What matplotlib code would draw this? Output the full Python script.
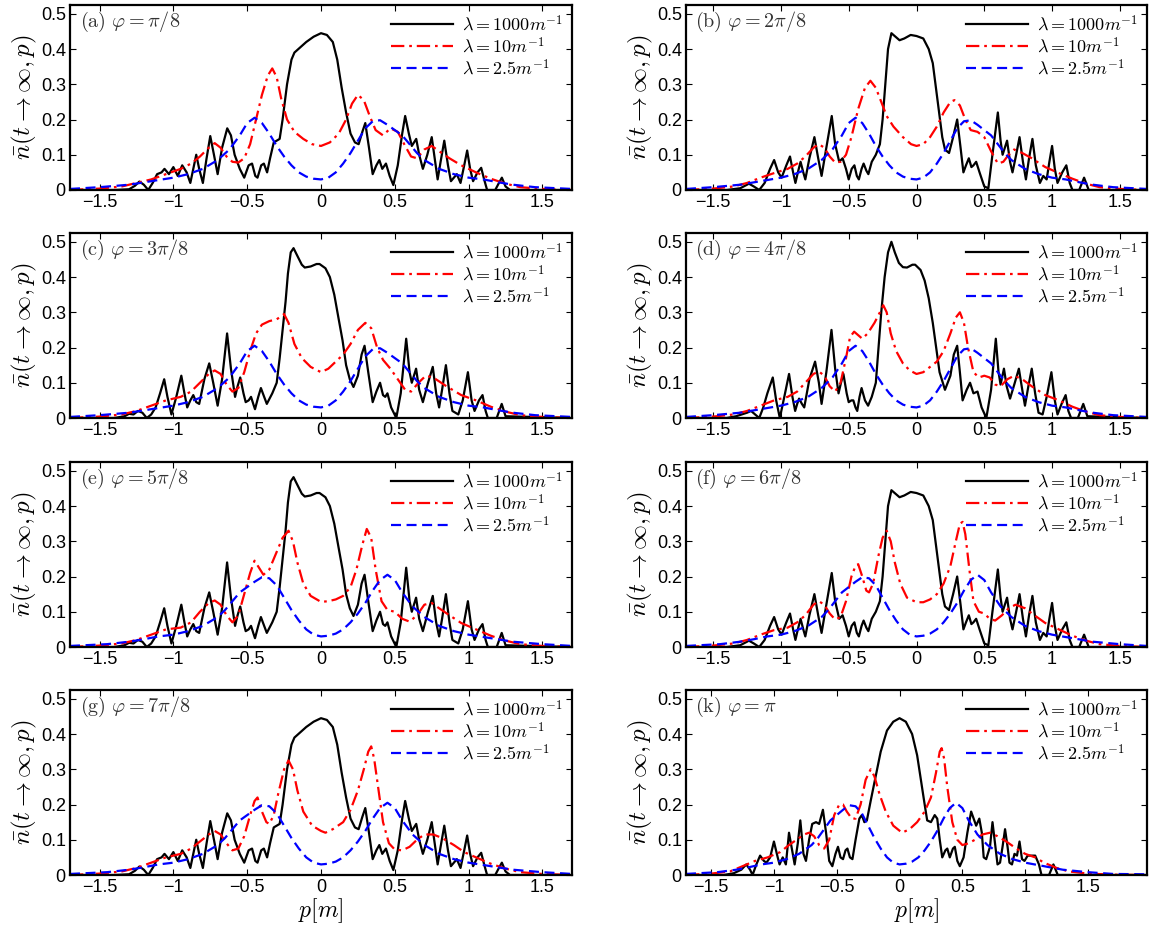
import matplotlib
matplotlib.use("Agg")
import matplotlib.pyplot as plt
import numpy as np

plt.rcParams['mathtext.fontset'] = 'cm'
plt.rcParams['font.family'] = ['Liberation Sans', 'DejaVu Sans']

# ---------------- data ----------------
# lambda = 1000 m^-1 (black solid)
black_A_x = [-1.70,-1.40,-1.30,-1.26,-1.23,-1.20,-1.17,-1.14,-1.11,-1.08,-1.06,-1.03,-1.00,-0.97,-0.94,-0.91,-0.885,-0.865,-0.845,-0.825,-0.80,-0.775,-0.75,-0.725,-0.70,-0.67,-0.635,-0.61,-0.585,-0.55,-0.52,-0.49,-0.467,-0.445,-0.43,-0.405,-0.387,-0.365,-0.345,-0.32,-0.28,-0.26,-0.23,-0.20,-0.18,-0.14,-0.10,-0.05,0.0,0.04,0.08,0.11,0.14,0.17,0.20,0.23,0.255,0.28,0.30,0.325,0.35,0.375,0.395,0.415,0.44,0.465,0.49,0.52,0.55,0.57,0.595,0.615,0.645,0.665,0.69,0.72,0.75,0.77,0.79,0.81,0.835,0.86,0.88,0.90,0.92,0.945,0.97,0.99,1.01,1.03,1.06,1.085,1.105,1.125,1.18,1.205,1.225,1.25,1.28,1.70]
black_A_y = [0.0,0.0,0.002,0.012,0.024,0.015,0.0,0.02,0.045,0.05,0.06,0.045,0.065,0.04,0.07,0.05,0.02,0.06,0.10,0.06,0.02,0.09,0.153,0.10,0.045,0.12,0.175,0.155,0.10,0.06,0.035,0.07,0.075,0.04,0.035,0.07,0.075,0.05,0.09,0.135,0.145,0.20,0.30,0.37,0.39,0.405,0.42,0.435,0.445,0.44,0.42,0.37,0.29,0.22,0.16,0.135,0.13,0.165,0.19,0.12,0.045,0.07,0.085,0.06,0.075,0.04,0.014,0.07,0.16,0.21,0.16,0.125,0.145,0.10,0.06,0.10,0.15,0.09,0.03,0.08,0.14,0.07,0.025,0.035,0.045,0.02,0.07,0.112,0.06,0.025,0.05,0.063,0.03,0.0,0.0,0.02,0.035,0.01,0.0,0.0]

black_B_x = [-1.70,-1.40,-1.30,-1.25,-1.236,-1.20,-1.16,-1.12,-1.08,-1.05,-1.02,-0.995,-0.96,-0.933,-0.91,-0.893,-0.875,-0.855,-0.835,-0.82,-0.79,-0.753,-0.725,-0.70,-0.665,-0.625,-0.60,-0.57,-0.545,-0.52,-0.50,-0.478,-0.458,-0.44,-0.425,-0.405,-0.39,-0.37,-0.355,-0.33,-0.30,-0.27,-0.25,-0.23,-0.21,-0.185,-0.155,-0.125,-0.09,-0.043,0.0,0.05,0.09,0.12,0.14,0.16,0.19,0.21,0.24,0.27,0.30,0.325,0.346,0.365,0.386,0.405,0.42,0.44,0.465,0.50,0.53,0.56,0.60,0.62,0.635,0.668,0.69,0.708,0.735,0.76,0.785,0.807,0.83,0.855,0.88,0.91,0.935,0.96,0.98,1.0,1.02,1.04,1.075,1.105,1.13,1.15,1.20,1.236,1.27,1.70]
black_B_y = [0.0,0.0,0.005,0.015,0.018,0.01,0.0,0.02,0.06,0.085,0.05,0.035,0.07,0.095,0.05,0.02,0.05,0.08,0.05,0.03,0.09,0.15,0.09,0.04,0.12,0.21,0.13,0.08,0.09,0.06,0.03,0.06,0.07,0.04,0.03,0.06,0.075,0.055,0.045,0.08,0.10,0.13,0.20,0.30,0.40,0.445,0.435,0.425,0.43,0.44,0.437,0.43,0.40,0.36,0.30,0.24,0.15,0.115,0.105,0.15,0.20,0.12,0.05,0.07,0.09,0.065,0.07,0.08,0.05,0.01,0.005,0.10,0.22,0.14,0.10,0.14,0.08,0.05,0.10,0.15,0.08,0.03,0.09,0.145,0.07,0.02,0.04,0.03,0.08,0.125,0.06,0.02,0.05,0.07,0.02,0.0,0.0,0.035,0.0,0.0]

black_C_x = [-1.70,-1.40,-1.33,-1.30,-1.27,-1.24,-1.21,-1.18,-1.15,-1.12,-1.09,-1.062,-1.04,-1.013,-0.98,-0.946,-0.925,-0.906,-0.885,-0.865,-0.845,-0.825,-0.79,-0.757,-0.73,-0.70,-0.67,-0.636,-0.61,-0.582,-0.565,-0.547,-0.525,-0.51,-0.49,-0.474,-0.455,-0.447,-0.425,-0.407,-0.385,-0.367,-0.33,-0.30,-0.28,-0.26,-0.24,-0.224,-0.205,-0.186,-0.16,-0.13,-0.11,-0.07,-0.03,-0.01,0.03,0.06,0.09,0.12,0.146,0.17,0.195,0.22,0.25,0.275,0.295,0.32,0.35,0.375,0.40,0.42,0.435,0.45,0.475,0.51,0.54,0.577,0.60,0.615,0.644,0.665,0.69,0.725,0.757,0.78,0.80,0.82,0.846,0.87,0.89,0.93,0.96,0.995,1.02,1.04,1.07,1.094,1.115,1.13,1.19,1.224,1.25,1.70]
black_C_y = [0.0,0.0,0.005,0.012,0.01,0.02,0.015,0.0,0.01,0.03,0.07,0.11,0.06,0.01,0.06,0.12,0.07,0.03,0.05,0.065,0.045,0.04,0.11,0.155,0.10,0.035,0.11,0.24,0.14,0.06,0.09,0.115,0.07,0.045,0.05,0.06,0.035,0.025,0.06,0.085,0.06,0.04,0.07,0.10,0.17,0.25,0.33,0.41,0.47,0.482,0.46,0.435,0.427,0.43,0.437,0.437,0.425,0.40,0.35,0.28,0.22,0.15,0.11,0.088,0.12,0.18,0.205,0.13,0.045,0.075,0.10,0.065,0.06,0.07,0.03,0.0,0.07,0.225,0.13,0.10,0.14,0.08,0.045,0.10,0.145,0.07,0.03,0.08,0.15,0.07,0.02,0.01,0.05,0.13,0.05,0.02,0.05,0.065,0.02,0.0,0.0,0.04,0.005,0.0]

black_D_x = [-1.70,-1.40,-1.33,-1.29,-1.25,-1.22,-1.19,-1.16,-1.13,-1.10,-1.06,-1.035,-1.008,-0.975,-0.94,-0.915,-0.895,-0.88,-0.866,-0.845,-0.828,-0.79,-0.748,-0.72,-0.70,-0.665,-0.627,-0.60,-0.575,-0.557,-0.539,-0.515,-0.50,-0.48,-0.466,-0.45,-0.437,-0.42,-0.405,-0.38,-0.357,-0.33,-0.30,-0.28,-0.26,-0.235,-0.21,-0.185,-0.16,-0.13,-0.10,-0.07,-0.03,-0.01,0.03,0.06,0.09,0.12,0.145,0.17,0.21,0.25,0.275,0.30,0.32,0.34,0.37,0.395,0.42,0.45,0.48,0.515,0.55,0.585,0.605,0.62,0.645,0.665,0.69,0.725,0.755,0.78,0.80,0.825,0.85,0.875,0.90,0.93,0.96,0.995,1.02,1.04,1.07,1.10,1.12,1.14,1.19,1.23,1.26,1.70]
black_D_y = [0.0,0.0,0.005,0.01,0.015,0.02,0.01,0.0,0.03,0.07,0.115,0.05,0.0,0.06,0.125,0.06,0.02,0.04,0.055,0.04,0.03,0.11,0.16,0.10,0.04,0.13,0.25,0.14,0.07,0.10,0.125,0.07,0.045,0.05,0.05,0.03,0.02,0.06,0.085,0.05,0.035,0.06,0.10,0.20,0.30,0.40,0.47,0.50,0.47,0.44,0.428,0.427,0.435,0.435,0.42,0.39,0.34,0.27,0.20,0.13,0.08,0.12,0.18,0.205,0.13,0.05,0.08,0.10,0.07,0.075,0.03,0.0,0.08,0.225,0.13,0.095,0.14,0.09,0.055,0.10,0.14,0.08,0.035,0.09,0.14,0.07,0.015,0.01,0.06,0.13,0.05,0.01,0.04,0.065,0.02,0.0,0.0,0.04,0.005,0.0]

black_K_x = [-1.70,-1.40,-1.32,-1.26,-1.22,-1.19,-1.17,-1.14,-1.11,-1.08,-1.06,-1.03,-1.00,-0.97,-0.955,-0.93,-0.905,-0.88,-0.86,-0.835,-0.81,-0.79,-0.765,-0.745,-0.72,-0.695,-0.665,-0.64,-0.61,-0.585,-0.56,-0.535,-0.51,-0.49,-0.47,-0.45,-0.43,-0.415,-0.395,-0.375,-0.35,-0.32,-0.30,-0.28,-0.26,-0.23,-0.19,-0.15,-0.10,-0.05,0.0,0.05,0.10,0.14,0.17,0.20,0.22,0.25,0.28,0.30,0.32,0.34,0.365,0.38,0.40,0.425,0.44,0.46,0.48,0.51,0.54,0.57,0.59,0.61,0.635,0.655,0.67,0.69,0.72,0.74,0.76,0.78,0.80,0.82,0.84,0.86,0.875,0.895,0.915,0.935,0.955,0.975,0.995,1.02,1.05,1.08,1.11,1.13,1.19,1.225,1.26,1.97]
black_K_y = [0.0,0.0,0.005,0.015,0.03,0.015,0.0,0.03,0.055,0.04,0.035,0.05,0.095,0.05,0.03,0.05,0.03,0.12,0.08,0.03,0.09,0.155,0.06,0.04,0.10,0.145,0.15,0.145,0.185,0.12,0.04,0.025,0.06,0.08,0.05,0.045,0.07,0.075,0.05,0.045,0.10,0.16,0.17,0.15,0.155,0.21,0.28,0.35,0.41,0.435,0.445,0.435,0.40,0.34,0.27,0.20,0.155,0.15,0.17,0.16,0.10,0.05,0.07,0.075,0.05,0.075,0.08,0.04,0.025,0.05,0.12,0.18,0.16,0.14,0.16,0.12,0.05,0.045,0.08,0.15,0.09,0.03,0.035,0.08,0.13,0.08,0.035,0.03,0.06,0.055,0.095,0.045,0.04,0.055,0.055,0.055,0.03,0.0,0.0,0.03,0.0,0.0]

# lambda = 2.5 m^-1 (blue dashed)
blue_L_x = [-1.7,-1.5,-1.3,-1.15,-1.0,-0.9,-0.8,-0.7,-0.62,-0.55,-0.5,-0.45,-0.4,-0.35,-0.3,-0.25,-0.2,-0.15,-0.1,-0.05,0.0,0.05,0.1,0.15,0.2,0.25,0.3,0.35,0.4,0.45,0.5,0.55,0.6,0.65,0.7,0.8,0.9,1.0,1.1,1.2,1.3,1.45,1.7]
blue_L_y = [0.003,0.008,0.015,0.025,0.035,0.045,0.06,0.085,0.115,0.155,0.19,0.205,0.19,0.16,0.125,0.095,0.07,0.05,0.038,0.032,0.03,0.035,0.05,0.075,0.105,0.14,0.175,0.195,0.198,0.185,0.17,0.155,0.13,0.105,0.085,0.06,0.045,0.035,0.03,0.022,0.015,0.008,0.003]
blue_R_x = [-1.7,-1.45,-1.3,-1.2,-1.1,-1.0,-0.9,-0.8,-0.7,-0.65,-0.6,-0.55,-0.5,-0.45,-0.4,-0.35,-0.3,-0.25,-0.2,-0.15,-0.1,-0.05,0.0,0.05,0.1,0.15,0.2,0.25,0.3,0.35,0.4,0.45,0.5,0.55,0.62,0.7,0.8,0.9,1.0,1.15,1.3,1.5,1.7,1.97]
blue_R_y = [0.003,0.008,0.015,0.022,0.03,0.035,0.045,0.06,0.085,0.105,0.13,0.155,0.17,0.185,0.198,0.195,0.175,0.14,0.105,0.075,0.05,0.035,0.03,0.032,0.038,0.05,0.07,0.095,0.125,0.16,0.19,0.205,0.19,0.155,0.115,0.085,0.06,0.045,0.035,0.025,0.015,0.008,0.003,0.002]

# lambda = 10 m^-1 (red dash-dot)
red_tail_x = [-1.7,-1.5,-1.35,-1.25,-1.15,-1.05,-0.95,-0.88,-0.82,-0.76,-0.72,-0.68,-0.64,-0.6,-0.56]
red_a_x = red_tail_x + [-0.52,-0.48,-0.44,-0.40,-0.36,-0.33,-0.30,-0.27,-0.23,-0.18,-0.12,-0.06,0.0,0.06,0.12,0.17,0.21,0.25,0.29,0.33,0.37,0.42,0.47,0.52,0.57,0.61,0.65,0.7,0.75,0.8,0.87,0.95,1.05,1.15,1.25,1.35,1.5,1.7]
red_a_y = [0.0,0.004,0.01,0.02,0.03,0.045,0.06,0.075,0.095,0.12,0.133,0.12,0.095,0.08,0.078,0.09,0.13,0.2,0.27,0.325,0.345,0.32,0.26,0.2,0.165,0.145,0.13,0.125,0.135,0.16,0.2,0.245,0.27,0.255,0.21,0.17,0.155,0.175,0.165,0.125,0.095,0.09,0.115,0.125,0.11,0.09,0.07,0.05,0.032,0.018,0.008,0.003,0.0]
red_b_x = red_tail_x + [-0.52,-0.48,-0.43,-0.38,-0.34,-0.30,-0.26,-0.22,-0.17,-0.1,-0.04,0.0,0.05,0.1,0.15,0.2,0.25,0.28,0.32,0.36,0.4,0.45,0.5,0.55,0.6,0.64,0.68,0.72,0.78,0.85,0.95,1.05,1.15,1.25,1.35,1.5,1.7]
red_b_y = [0.0,0.004,0.01,0.02,0.035,0.048,0.06,0.075,0.095,0.12,0.13,0.12,0.095,0.078,0.08,0.1,0.15,0.23,0.29,0.31,0.29,0.25,0.21,0.18,0.15,0.13,0.125,0.13,0.15,0.18,0.22,0.25,0.255,0.24,0.2,0.17,0.165,0.15,0.11,0.075,0.08,0.1,0.115,0.105,0.09,0.065,0.048,0.032,0.018,0.008,0.003,0.0]
red_c_x = red_tail_x + [-0.52,-0.48,-0.44,-0.40,-0.35,-0.3,-0.25,-0.22,-0.18,-0.13,-0.07,0.0,0.05,0.1,0.15,0.2,0.25,0.3,0.34,0.38,0.42,0.47,0.52,0.57,0.61,0.66,0.71,0.76,0.85,0.95,1.05,1.15,1.25,1.35,1.5,1.7]
red_c_y = [0.0,0.004,0.01,0.02,0.035,0.05,0.06,0.075,0.1,0.125,0.135,0.125,0.095,0.075,0.085,0.13,0.19,0.24,0.265,0.275,0.28,0.295,0.27,0.21,0.17,0.145,0.13,0.14,0.16,0.18,0.21,0.25,0.27,0.255,0.2,0.165,0.14,0.11,0.08,0.075,0.1,0.12,0.115,0.09,0.065,0.05,0.032,0.018,0.008,0.003,0.0]
red_d_x = red_tail_x + [-0.52,-0.49,-0.46,-0.43,-0.4,-0.36,-0.31,-0.27,-0.245,-0.22,-0.19,-0.15,-0.1,-0.05,0.0,0.05,0.1,0.15,0.2,0.25,0.29,0.32,0.35,0.38,0.42,0.46,0.5,0.54,0.58,0.62,0.67,0.72,0.78,0.85,0.95,1.05,1.15,1.25,1.35,1.5,1.7]
red_d_y = [0.0,0.004,0.01,0.02,0.035,0.05,0.06,0.075,0.1,0.125,0.132,0.12,0.09,0.075,0.1,0.17,0.23,0.245,0.235,0.225,0.24,0.27,0.3,0.32,0.3,0.24,0.19,0.155,0.135,0.125,0.13,0.145,0.16,0.19,0.24,0.285,0.3,0.27,0.2,0.13,0.115,0.12,0.115,0.095,0.09,0.11,0.12,0.11,0.09,0.065,0.05,0.032,0.018,0.008,0.003,0.0]
red_e_x = red_tail_x + [-0.52,-0.48,-0.45,-0.42,-0.39,-0.35,-0.3,-0.26,-0.22,-0.19,-0.16,-0.12,-0.07,0.0,0.05,0.1,0.15,0.2,0.24,0.28,0.31,0.34,0.37,0.41,0.45,0.5,0.55,0.6,0.65,0.7,0.75,0.8,0.87,0.95,1.05,1.15,1.25,1.35,1.5,1.7]
red_e_y = [0.0,0.004,0.01,0.02,0.035,0.05,0.055,0.07,0.1,0.125,0.132,0.12,0.09,0.07,0.09,0.15,0.21,0.245,0.225,0.205,0.22,0.27,0.31,0.33,0.3,0.24,0.18,0.145,0.128,0.13,0.135,0.145,0.17,0.22,0.29,0.335,0.31,0.22,0.13,0.105,0.1,0.08,0.072,0.09,0.12,0.125,0.11,0.09,0.068,0.05,0.032,0.018,0.008,0.003,0.0]
red_f_x = red_tail_x + [-0.52,-0.48,-0.45,-0.43,-0.4,-0.37,-0.35,-0.32,-0.28,-0.25,-0.22,-0.19,-0.16,-0.12,-0.07,0.0,0.05,0.1,0.15,0.2,0.25,0.29,0.32,0.34,0.36,0.39,0.42,0.46,0.5,0.54,0.58,0.63,0.68,0.73,0.8,0.87,0.95,1.05,1.15,1.25,1.35,1.5,1.7]
red_f_y = [0.0,0.004,0.01,0.02,0.035,0.048,0.055,0.07,0.09,0.12,0.13,0.12,0.095,0.078,0.085,0.13,0.2,0.23,0.235,0.2,0.16,0.155,0.18,0.26,0.31,0.33,0.3,0.24,0.18,0.14,0.127,0.127,0.135,0.15,0.18,0.23,0.3,0.35,0.355,0.32,0.22,0.13,0.1,0.095,0.08,0.075,0.09,0.11,0.12,0.11,0.09,0.068,0.05,0.032,0.018,0.008,0.003,0.0]
red_g_x = red_tail_x + [-0.52,-0.48,-0.45,-0.43,-0.4,-0.37,-0.35,-0.32,-0.29,-0.25,-0.22,-0.19,-0.16,-0.12,-0.06,0.0,0.03,0.08,0.15,0.2,0.25,0.29,0.32,0.34,0.36,0.39,0.42,0.46,0.5,0.55,0.6,0.65,0.7,0.76,0.82,0.9,0.97,1.05,1.15,1.25,1.35,1.5,1.7]
red_g_y = [0.0,0.004,0.01,0.02,0.035,0.05,0.06,0.075,0.095,0.115,0.125,0.115,0.09,0.07,0.075,0.11,0.17,0.21,0.22,0.18,0.15,0.145,0.17,0.23,0.3,0.325,0.3,0.24,0.18,0.14,0.125,0.12,0.13,0.15,0.185,0.24,0.3,0.35,0.365,0.33,0.24,0.15,0.09,0.072,0.07,0.08,0.1,0.115,0.115,0.105,0.085,0.065,0.05,0.032,0.018,0.008,0.003,0.0]
red_k_x = red_tail_x + [-0.52,-0.48,-0.45,-0.42,-0.38,-0.35,-0.31,-0.27,-0.23,-0.2,-0.16,-0.11,-0.05,0.02,0.08,0.14,0.2,0.25,0.29,0.32,0.335,0.355,0.38,0.42,0.46,0.5,0.55,0.6,0.66,0.72,0.78,0.85,0.93,1.0,1.08,1.15,1.25,1.35,1.5,1.7,1.97]
red_k_y = [0.0,0.004,0.01,0.025,0.04,0.05,0.065,0.085,0.1,0.115,0.12,0.11,0.085,0.075,0.1,0.17,0.2,0.2,0.18,0.16,0.16,0.2,0.27,0.3,0.28,0.23,0.18,0.14,0.12,0.13,0.15,0.18,0.22,0.29,0.35,0.36,0.33,0.25,0.15,0.1,0.085,0.09,0.1,0.115,0.12,0.11,0.095,0.075,0.06,0.05,0.035,0.02,0.01,0.004,0.001,0.0]

panel_labels = [r'$\mathrm{(a)}\ \varphi=\pi/8$', r'$\mathrm{(b)}\ \varphi=2\pi/8$',
                r'$\mathrm{(c)}\ \varphi=3\pi/8$', r'$\mathrm{(d)}\ \varphi=4\pi/8$',
                r'$\mathrm{(e)}\ \varphi=5\pi/8$', r'$\mathrm{(f)}\ \varphi=6\pi/8$',
                r'$\mathrm{(g)}\ \varphi=7\pi/8$', r'$\mathrm{(k)}\ \varphi=\pi$']
legend_labels = [r'$\lambda=1000m^{-1}$', r'$\lambda=10m^{-1}$', r'$\lambda=2.5m^{-1}$']
xtick_vals = [-1.5, -1, -0.5, 0, 0.5, 1, 1.5]
xtick_labels = ['\u22121.5', '\u22121', '\u22120.5', '0', '0.5', '1', '1.5']
ytick_vals = [0, 0.1, 0.2, 0.3, 0.4, 0.5]
ytick_labels = ['0', '0.1', '0.2', '0.3', '0.4', '0.5']

blacks = [(black_A_x, black_A_y), (black_B_x, black_B_y), (black_C_x, black_C_y), (black_D_x, black_D_y),
          (black_C_x, black_C_y), (black_B_x, black_B_y), (black_A_x, black_A_y), (black_K_x, black_K_y)]
reds = [(red_a_x, red_a_y), (red_b_x, red_b_y), (red_c_x, red_c_y), (red_d_x, red_d_y),
        (red_e_x, red_e_y), (red_f_x, red_f_y), (red_g_x, red_g_y), (red_k_x, red_k_y)]
blues = [(blue_L_x, blue_L_y)] * 4 + [(blue_R_x, blue_R_y)] * 4
xmax = [1.7] * 7 + [1.97]

# ---------------- figure ----------------
W, H = 1155, 932
fig = plt.figure(figsize=(W / 100, H / 100), dpi=100)
col_x = [(70, 572), (686, 1147)]
row_y = [(5, 190), (233, 418), (462, 647), (690, 875)]

for i in range(8):
    r, c = divmod(i, 2)
    x0, x1 = col_x[c]
    yt, yb = row_y[r]
    ax = fig.add_axes([x0 / W, 1 - yb / H, (x1 - x0) / W, (yb - yt) / H])
    bx, by = blacks[i]
    rx, ry = reds[i]
    ux, uy = blues[i]
    ax.plot(bx, by, color='black', lw=1.6, ls='-', label=legend_labels[0])
    ax.plot(rx, ry, color='red', lw=1.6, ls=(0, (6, 2.2, 1.2, 2.2)), label=legend_labels[1])
    ax.plot(ux, uy, color='blue', lw=1.6, ls=(0, (4.5, 2.5)), label=legend_labels[2])
    ax.set_xlim(-1.7, xmax[i])
    ax.set_ylim(0, 0.525)
    ax.set_xticks(xtick_vals)
    ax.set_xticklabels(xtick_labels)
    ax.set_yticks(ytick_vals)
    ax.set_yticklabels(ytick_labels)
    ax.tick_params(direction='in', length=4, width=0.8, top=True, right=True, labelsize=13, pad=3)
    for s in ax.spines.values():
        s.set_linewidth(1.6)
    ax.set_ylabel(r'$\bar{n}(t\rightarrow\infty,p)$', fontsize=18, labelpad=1)
    ax.text(0.02, 0.975, panel_labels[i], transform=ax.transAxes, ha='left', va='top',
            fontsize=14.5, color='#333333')
    ax.legend(loc='upper right', frameon=False, fontsize=13, handlelength=3.4,
              borderaxespad=0.1, labelspacing=0.12, handletextpad=0.5)
    if r == 3:
        ax.set_xlabel(r'$p[m]$', fontsize=17, labelpad=0)

fig.savefig('out.png', dpi=100)
